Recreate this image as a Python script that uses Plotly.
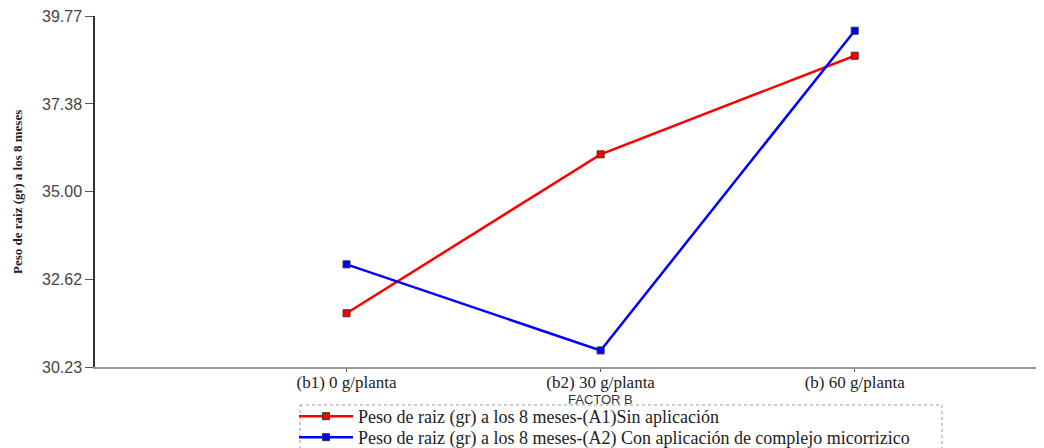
import plotly.graph_objects as go

categories = ["(b1) 0 g/planta", "(b2) 30 g/planta", "(b) 60 g/planta"]
a1_values = [31.69, 36.01, 38.69]
a2_values = [33.02, 30.68, 39.37]
y_ticks = [30.23, 32.62, 35.00, 37.38, 39.77]
y_ticktext = ["30.23", "32.62", "35.00", "37.38", "39.77"]
series_names = [
    "Peso de raiz (gr) a los 8 meses-(A1)Sin aplicación",
    "Peso de raiz (gr) a los 8 meses-(A2) Con aplicación de complejo micorrizico",
]

# page body has an 8px default margin; compensate so the plot lands on the target pixels
OFF = 8
W, H = 1044 - OFF, 448 - OFF
L, R, T, B = 95 - OFF, 0, 16 - OFF, 81
PW, PH = W - L - R, H - T - B


def px_x(p):
    return (p - OFF - L) / PW


def px_y(p):
    return (H - B - (p - OFF)) / PH


fig = go.Figure()
fig.add_trace(go.Scatter(
    x=categories, y=a1_values, name=series_names[0], mode="lines+markers",
    line=dict(color="#ff0000", width=2.5), legend="legend",
    marker=dict(symbol="square", size=7, color="#ff0000", line=dict(color="#333333", width=1)),
))
fig.add_trace(go.Scatter(
    x=categories, y=a2_values, name=series_names[1], mode="lines+markers",
    line=dict(color="#0000ff", width=2.5), legend="legend2",
    marker=dict(symbol="square", size=7, color="#0000ff", line=dict(color="#333333", width=1)),
))

legend_common = dict(
    xanchor="left", yanchor="top",
    font=dict(family="Liberation Serif", size=18, color="#222222"),
    bgcolor="rgba(0,0,0,0)", borderwidth=0, itemwidth=54,
)

fig.update_layout(
    width=W, height=H,
    margin=dict(l=L, r=R, t=T, b=B, autoexpand=False),
    paper_bgcolor="white", plot_bgcolor="white",
    showlegend=True,
    legend=dict(x=px_x(294), y=px_y(398), **legend_common),
    legend2=dict(x=px_x(294), y=px_y(419), **legend_common),
    xaxis=dict(
        type="category", range=[-0.99, 2.745],
        showline=True, linecolor="#999999", linewidth=2,
        ticks="outside", ticklen=3, tickcolor="#555555",
        ticklabelstandoff=-4,
        tickfont=dict(family="Liberation Serif", size=17, color="#222222"),
        showgrid=False, zeroline=False,
    ),
    yaxis=dict(
        range=[30.23, 39.77],
        tickvals=y_ticks, ticktext=y_ticktext,
        showline=True, linecolor="#333333", linewidth=1.5,
        ticks="outside", ticklen=8, tickcolor="#555555",
        ticklabeloverflow="allow",
        tickfont=dict(family="Liberation Sans", size=16, color="#444444"),
        showgrid=False, zeroline=False,
    ),
    annotations=[
        dict(text="<b>Peso de raiz (gr) a los 8 meses</b>", x=px_x(18), xref="paper",
             y=px_y(192), yref="paper",
             textangle=-90, showarrow=False,
             font=dict(family="Liberation Serif", size=13, color="#222222"),
             xanchor="center", yanchor="middle"),
        dict(text="FACTOR B", x=categories[1], xref="x", y=px_y(399), yref="paper",
             showarrow=False, font=dict(family="Liberation Sans", size=13, color="#333333"),
             xanchor="center", yanchor="middle"),
    ],
    shapes=[
        dict(type="rect", xref="paper", yref="paper",
             x0=px_x(300), x1=px_x(942), y0=px_y(405), y1=px_y(460),
             line=dict(color="#999999", width=1, dash="dot"), fillcolor="rgba(0,0,0,0)"),
    ],
)

fig.write_html("out.html")
